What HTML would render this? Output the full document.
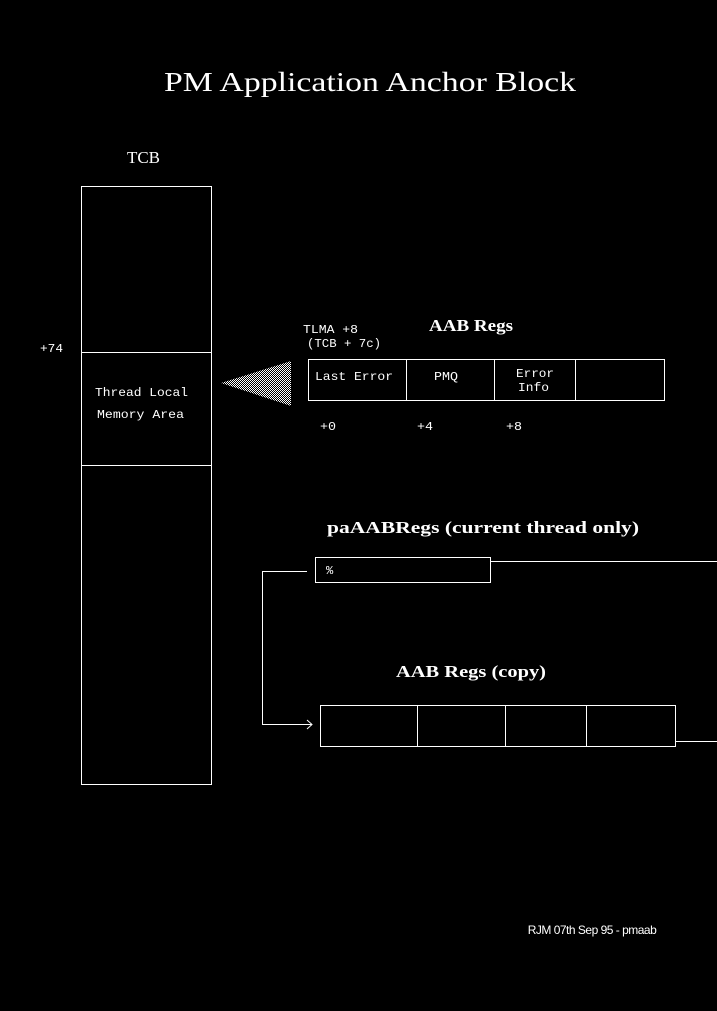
<!DOCTYPE html>
<html><head><style>html,body{margin:0;padding:0;background:#000;}svg{display:block}</style></head>
<body>
<svg width="717" height="1011" xmlns="http://www.w3.org/2000/svg">
<defs>
<pattern id="dots" width="2" height="2" patternUnits="userSpaceOnUse">
<rect width="2" height="2" fill="#000"/><rect width="1" height="1" fill="#fff"/><rect x="1" y="1" width="1" height="1" fill="#fff"/>
</pattern>
</defs>
<rect width="717" height="1011" fill="#000"/>
<g fill="none" stroke="#fff" stroke-width="1">
<rect x="81.5" y="186.5" width="130" height="598"/>
<line x1="81" y1="352.5" x2="211" y2="352.5"/>
<line x1="81" y1="465.5" x2="211" y2="465.5"/>
<rect x="308.5" y="359.5" width="356" height="41"/>
<line x1="406.5" y1="359" x2="406.5" y2="400"/>
<line x1="494.5" y1="359" x2="494.5" y2="400"/>
<line x1="575.5" y1="359" x2="575.5" y2="400"/>
<rect x="315.5" y="557.5" width="175" height="25"/>
<line x1="490" y1="561.5" x2="717" y2="561.5"/>
<polyline points="307,571.5 262.5,571.5 262.5,724.5 312,724.5"/>
<polyline points="307,720 312,724.5 307,729"/>
<rect x="320.5" y="705.5" width="355" height="41"/>
<line x1="417.5" y1="705" x2="417.5" y2="746"/>
<line x1="505.5" y1="705" x2="505.5" y2="746"/>
<line x1="586.5" y1="705" x2="586.5" y2="746"/>
<line x1="675" y1="741.5" x2="717" y2="741.5"/>
</g>
<polygon points="221,383 291,361 291,406" fill="url(#dots)"/>
<g fill="#fff" font-family="'Liberation Serif',serif">
<text x="164" y="91" font-size="27" textLength="412" lengthAdjust="spacingAndGlyphs">PM Application Anchor Block</text>
<text x="127" y="163" font-size="17" textLength="33" lengthAdjust="spacingAndGlyphs">TCB</text>
<text x="429" y="331" font-size="17" font-weight="bold" textLength="84" lengthAdjust="spacingAndGlyphs">AAB Regs</text>
<text x="327" y="533" font-size="17" font-weight="bold" textLength="312" lengthAdjust="spacingAndGlyphs">paAABRegs (current thread only)</text>
<text x="396" y="677" font-size="17" font-weight="bold" textLength="150" lengthAdjust="spacingAndGlyphs">AAB Regs (copy)</text>
</g>
<g fill="#fff" font-family="'Liberation Mono',monospace" font-size="12">
<text x="40" y="352" textLength="23" lengthAdjust="spacingAndGlyphs">+74</text>
<text x="95" y="396" textLength="93" lengthAdjust="spacingAndGlyphs">Thread Local</text>
<text x="97" y="418" textLength="87" lengthAdjust="spacingAndGlyphs">Memory Area</text>
<text x="303" y="333" textLength="55" lengthAdjust="spacingAndGlyphs">TLMA +8</text>
<text x="307" y="347" textLength="74" lengthAdjust="spacingAndGlyphs">(TCB + 7c)</text>
<text x="315" y="380" textLength="78" lengthAdjust="spacingAndGlyphs">Last Error</text>
<text x="434" y="380" textLength="24" lengthAdjust="spacingAndGlyphs">PMQ</text>
<text x="516" y="377" textLength="38" lengthAdjust="spacingAndGlyphs">Error</text>
<text x="518" y="391" textLength="31" lengthAdjust="spacingAndGlyphs">Info</text>
<text x="320" y="430" textLength="16" lengthAdjust="spacingAndGlyphs">+0</text>
<text x="417" y="430" textLength="16" lengthAdjust="spacingAndGlyphs">+4</text>
<text x="506" y="430" textLength="16" lengthAdjust="spacingAndGlyphs">+8</text>
<text x="326" y="574">%</text>
</g>
<text x="592" y="934" fill="#fff" font-family="'Liberation Sans',sans-serif" font-size="12" text-anchor="middle" letter-spacing="-0.5">RJM 07th Sep 95 - pmaab</text>
</svg>
</body></html>
